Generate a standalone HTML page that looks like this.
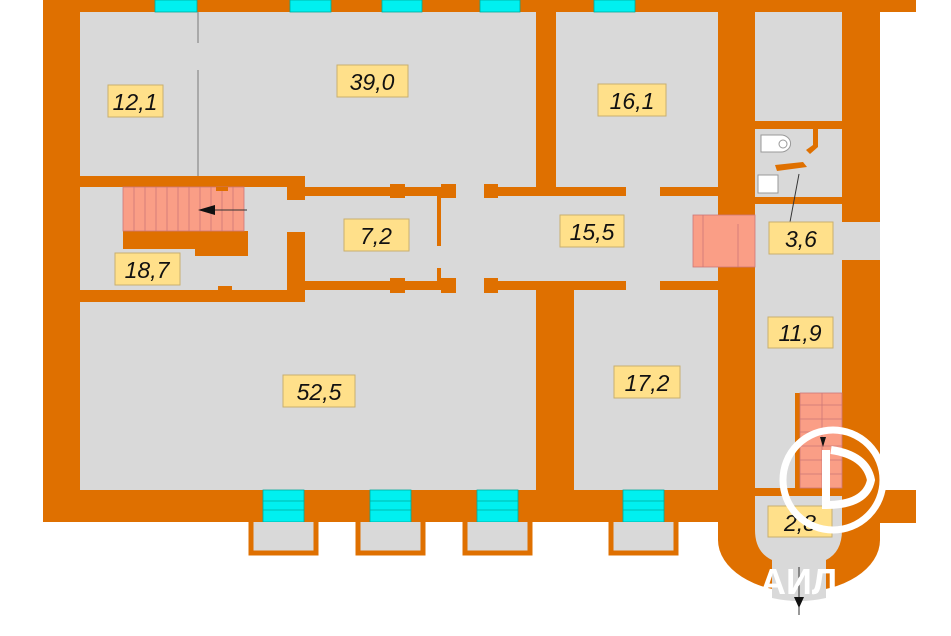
<!DOCTYPE html>
<html><head><meta charset="utf-8"><style>
html,body{margin:0;padding:0;background:#fff;}
svg{display:block}
.l{font-family:"Liberation Sans",sans-serif;font-style:italic;font-size:23px;fill:#111;text-anchor:middle}
</style></head><body>
<svg width="951" height="636" viewBox="0 0 951 636" xmlns="http://www.w3.org/2000/svg">
<g fill="#df7000">
<rect x="43" y="0" width="837" height="522"/>
<rect x="880" y="0" width="36" height="12"/>
<rect x="880" y="490" width="36" height="33"/>
<path d="M718 500 L718 540 A81 52 0 0 0 880 540 L880 500 Z"/>
</g>
<g fill="#d9d9d9">
<rect x="80" y="12" width="456" height="176"/>
<rect x="556" y="12" width="162" height="176"/>
<rect x="755" y="12" width="87" height="109"/>
<rect x="755" y="129" width="87" height="68"/>
<rect x="755" y="204" width="87" height="284"/>
<rect x="842" y="222" width="38" height="38"/>
<rect x="80" y="186" width="638" height="104"/>
<rect x="80" y="288" width="456" height="202"/>
<rect x="574" y="288" width="144" height="202"/>
<path d="M755 496 L842 496 L842 530 Q842 552 826 560 L826 598 Q799 604 772 598 L772 560 Q755 552 755 530 Z"/>
</g>
<line x1="198" y1="12" x2="198" y2="43" stroke="#999" stroke-width="1.5"/>
<line x1="198" y1="70" x2="198" y2="176" stroke="#999" stroke-width="1.5"/>
<g fill="#df7000">
<rect x="80" y="176" width="225" height="11"/>
<rect x="287" y="176" width="18" height="24"/>
<rect x="287" y="232" width="18" height="70"/>
<rect x="80" y="290" width="225" height="12"/>
<rect x="123" y="231" width="125" height="18"/>
<rect x="195" y="231" width="53" height="25"/>
<rect x="218" y="286" width="14" height="4"/>
<rect x="305" y="187" width="150" height="9"/>
<rect x="390" y="184" width="15" height="14"/>
<rect x="441" y="184" width="15" height="14"/>
<rect x="437" y="196" width="4" height="50"/>
<rect x="305" y="281" width="150" height="9"/>
<rect x="390" y="278" width="15" height="15"/>
<rect x="441" y="278" width="15" height="15"/>
<rect x="437" y="268" width="4" height="14"/>
<rect x="484" y="184" width="14" height="14"/>
<rect x="484" y="187" width="142" height="9"/>
<rect x="536" y="176" width="20" height="20"/>
<rect x="660" y="187" width="58" height="9"/>
<rect x="484" y="278" width="14" height="15"/>
<rect x="484" y="281" width="142" height="9"/>
<rect x="536" y="281" width="38" height="209"/>
<rect x="660" y="281" width="58" height="9"/>
<rect x="755" y="121" width="87" height="8"/>
<rect x="755" y="197" width="21" height="7"/>
<rect x="808" y="197" width="34" height="7"/>
<rect x="755" y="488" width="87" height="8"/>
<path d="M813 129 l5 0 l0 18 l-8 7 l-4 -4 l7 -5 Z"/>
<path d="M775 165 l28 -3 l4 5 l-30 4 Z"/>
<rect x="795" y="393" width="5" height="97"/>
</g>
<g fill="#fa9e86" stroke="#c77" stroke-width="0.8">
<rect x="123" y="187" width="121" height="44"/>
<rect x="693" y="215" width="62" height="52"/>
<rect x="800" y="393" width="42" height="95"/>
</g>
<g stroke="#c77" stroke-width="0.8">
<path d="M134 187v44M145 187v44M156 187v44M167 187v44M178 187v44M189 187v44M200 187v44M211 187v44M222 187v44M233 187v44"/>
<path d="M703 215v52M738 224v43"/>
<path d="M800 405h42M800 419h42M800 432h42M800 446h42M800 460h42M800 474h42M822 393v95"/>
</g>
<rect x="216" y="187" width="12" height="4" fill="#df7000"/>
<line x1="200" y1="210" x2="247" y2="210" stroke="#333" stroke-width="1"/>
<path d="M198 210 l17 -5 l0 10 Z" fill="#111"/>
<path d="M820 437 l6 0 l-3 10 Z" fill="#111"/>
<line x1="799" y1="567" x2="799" y2="615" stroke="#333" stroke-width="1"/>
<path d="M794 597 l10 0 l-5 11 Z" fill="#111"/>
<path d="M761 135 h20 a9 8 0 0 1 0 17 h-20 Z" fill="#fff" stroke="#999"/>
<circle cx="783" cy="144" r="4" fill="none" stroke="#999"/>
<rect x="758" y="175" width="20" height="18" fill="#fff" stroke="#999"/>
<line x1="799" y1="174" x2="790" y2="222" stroke="#333" stroke-width="1"/>
<g fill="#00f0f0" stroke="#0a9" stroke-width="0.8">
<rect x="155" y="0" width="42" height="12"/><rect x="290" y="0" width="41" height="12"/>
<rect x="382" y="0" width="40" height="12"/><rect x="480" y="0" width="40" height="12"/>
<rect x="594" y="0" width="41" height="12"/>
<rect x="263" y="490" width="41" height="32"/><rect x="370" y="490" width="41" height="32"/>
<rect x="477" y="490" width="41" height="32"/><rect x="623" y="490" width="41" height="32"/>
</g>
<g stroke="#0a9" stroke-width="0.8"><path d="M263 501h41M263 510h41M370 501h41M370 510h41M477 501h41M477 510h41M623 501h41M623 510h41"/></g>
<g fill="#d9d9d9" stroke="#df7000" stroke-width="5">
<path d="M251 522 v31 h65 v-31"/><path d="M358 522 v31 h65 v-31"/>
<path d="M465 522 v31 h65 v-31"/><path d="M611 522 v31 h65 v-31"/>
</g>
<g fill="#ffe08a" stroke="#c9b070" stroke-width="1">
<rect x="108" y="85" width="55" height="32"/><rect x="337" y="65" width="71" height="32"/>
<rect x="598" y="84" width="68" height="32"/><rect x="344" y="219" width="65" height="32"/>
<rect x="560" y="215" width="64" height="32"/><rect x="769" y="222" width="64" height="32"/>
<rect x="115" y="253" width="65" height="32"/><rect x="768" y="317" width="65" height="31"/>
<rect x="283" y="375" width="72" height="32"/><rect x="614" y="366" width="66" height="32"/>
<rect x="768" y="506" width="64" height="31"/>
</g>
<text class="l" x="135" y="110">12,1</text><text class="l" x="372" y="90">39,0</text>
<text class="l" x="632" y="109">16,1</text><text class="l" x="376" y="244">7,2</text>
<text class="l" x="592" y="240">15,5</text><text class="l" x="801" y="247">3,6</text>
<text class="l" x="147" y="278">18,7</text><text class="l" x="800" y="341">11,9</text>
<text class="l" x="319" y="400">52,5</text><text class="l" x="647" y="391">17,2</text>
<text class="l" x="800" y="531">2,8</text>
<circle cx="833" cy="480" r="50" fill="none" stroke="#fff" stroke-width="7"/>
<path d="M826 450 v55 q40 0 45 -25 q-5 -25 -40 -30" fill="none" stroke="#fff" stroke-width="8"/>
<text x="760" y="594" font-family="Liberation Sans,sans-serif" font-weight="bold" font-size="36" fill="#fff">АИЛ</text>
</svg>
</body></html>
